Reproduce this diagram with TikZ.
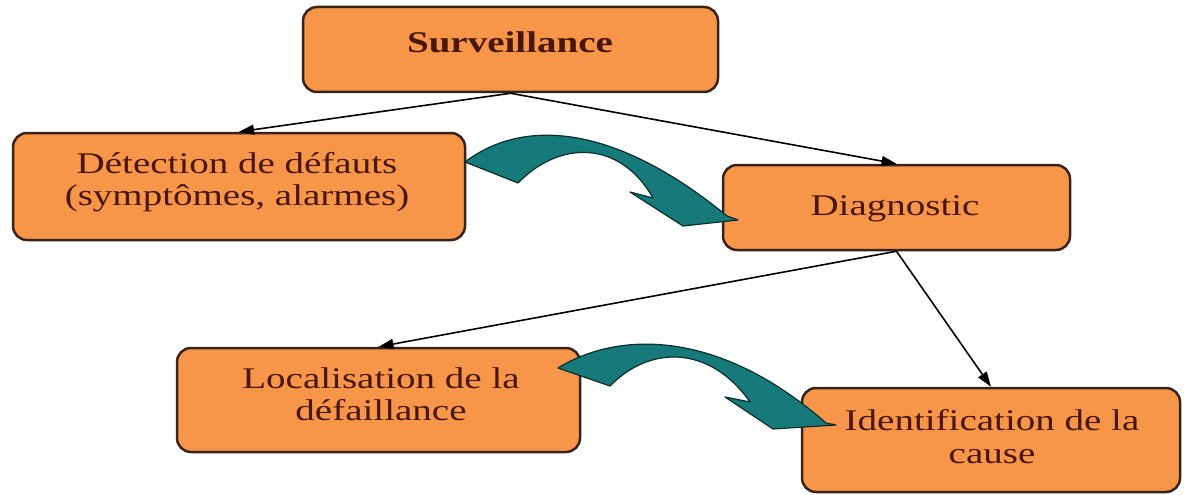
\documentclass[tikz,border=0pt]{standalone}
\usepackage{fontspec}
\setmainfont{Liberation Serif}
\usetikzlibrary{arrows.meta}
\definecolor{boxfill}{RGB}{247,150,72}
\definecolor{boxedge}{RGB}{55,35,25}
\definecolor{txtbrown}{RGB}{75,22,10}
\definecolor{teal2}{RGB}{22,122,122}
\definecolor{tealedge}{RGB}{10,45,45}
\newcommand{\wl}[1]{\scalebox{1.3}[1]{#1}}
\tikzset{
  box/.style={draw=boxedge, line width=2.5pt, fill=boxfill, rounded corners=14pt},
  lbl/.style={anchor=base, inner sep=0pt, text=txtbrown, font=\fontsize{30}{33}\selectfont},
  conn/.style={line width=1.6pt, -{Triangle[length=15pt,width=10pt]}},
  blockarrow/.style={fill=teal2, draw=tealedge, line width=1.2pt, line join=round}
}
\begin{document}
\begin{tikzpicture}[x=1pt,y=-1pt]
\useasboundingbox (0,0) rectangle (1184,495);
% boxes
\node[box, minimum width=415pt, minimum height=85pt] (S) at (510.5,49.5) {};
\node[box, minimum width=452pt, minimum height=107pt] (D) at (239,186.5) {};
\node[box, minimum width=347pt, minimum height=85pt] (G) at (896.5,207.5) {};
\node[box, minimum width=403pt, minimum height=104pt] (L) at (378.5,400) {};
\node[box, minimum width=378pt, minimum height=104pt] (I) at (991,440) {};
% texts
\node[lbl, font=\fontsize{30}{33}\selectfont\bfseries] (tS) at (510,53) {\wl{Surveillance}};
\node[lbl] (tD1) at (237,173) {\wl{Détection de défauts}};
\node[lbl] (tD2) at (237,205) {\wl{(symptômes, alarmes)}};
\node[lbl] (tG) at (895,215) {\wl{Diagnostic}};
\node[lbl] (tL1) at (381,388) {\wl{Localisation de la}};
\node[lbl] (tL2) at (381,420) {\wl{défaillance}};
\node[lbl] (tI1) at (992,430) {\wl{Identification de la}};
\node[lbl] (tI2) at (992,463) {\wl{cause}};
% connectors
\draw[conn] (S.south) -- (D.north);
\draw[conn] (S.south) -- (G.north);
\draw[conn] (G.south) -- (L.north);
\draw[conn] (G.south) -- (I.north);
% curved block arrows
\draw[blockarrow] (465,162) .. controls (520,120) and (610,120) .. (727,216) -- (738,220) -- (683,226) -- (630,192) -- (653,198)
  .. controls (620,140) and (560,140) .. (518,183) -- cycle;
\draw[blockarrow] (558,368) .. controls (620,330) and (720,330) .. (826,423) -- (836,425) -- (773,429) -- (725,397) -- (750,402)
  .. controls (710,345) and (650,345) .. (610,386) -- cycle;
\end{tikzpicture}
\end{document}
